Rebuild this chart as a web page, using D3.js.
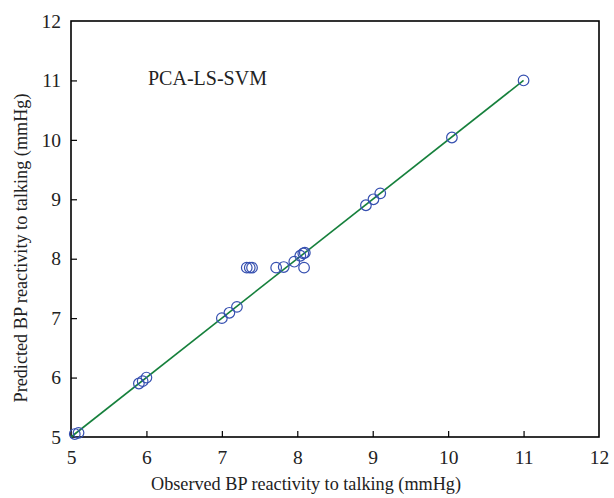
<!DOCTYPE html>
<html><head><meta charset="utf-8">
<script src="https://cdn.jsdelivr.net/npm/d3@7"></script>
<style>body{margin:0;background:#fff}svg{display:block}</style>
</head><body>
<script>
const observed  = [5.05,5.1, 5.9,5.95,6.0, 7.0,7.1,7.2, 7.33,7.37,7.4, 7.72,7.82, 7.96, 8.04,8.08,8.1, 8.09, 8.91,9.01,9.1, 10.05, 11.0];
const predicted = [5.05,5.07,5.9,5.94,6.0, 7.0,7.09,7.19, 7.85,7.85,7.85, 7.85,7.86, 7.95, 8.05,8.09,8.1, 7.85, 8.9,9.0,9.1, 10.04, 11.0];
const fitLine = [[5,5],[11,11]];
const xTicks = [5,6,7,8,9,10,11,12];
const yTicks = [5,6,7,8,9,10,11,12];
const title = "PCA-LS-SVM";
const xLabel = "Observed BP reactivity to talking (mmHg)";
const yLabel = "Predicted BP reactivity to talking (mmHg)";

const W = 614, H = 498;
const m = {left:71, right:15, top:21, bottom:61};
const svg = d3.select("body").append("svg").attr("width",W).attr("height",H);
const x = d3.scaleLinear().domain([5,12]).range([m.left, W-m.right]);
const y = d3.scaleLinear().domain([5,12]).range([H-m.bottom, m.top]);
const font = "'Liberation Serif', 'Times New Roman', serif";

// frame
svg.append("rect").attr("x",x(5)).attr("y",y(12)).attr("width",x(12)-x(5)).attr("height",y(5)-y(12))
  .attr("fill","none").attr("stroke","#000").attr("stroke-width",1.6);

const xAxis = svg.append("g").attr("transform",`translate(0,${y(5)})`)
  .call(d3.axisBottom(x).tickValues(xTicks).tickFormat(d3.format("d")).tickSize(-6).tickPadding(13));
const yAxis = svg.append("g").attr("transform",`translate(${x(5)},0)`)
  .call(d3.axisLeft(y).tickValues(yTicks).tickFormat(d3.format("d")).tickSize(-6).tickPadding(10));
[xAxis,yAxis].forEach(a=>{
  a.select(".domain").remove();
  a.selectAll(".tick line").attr("stroke","#000").attr("stroke-width",1.2);
  a.selectAll(".tick text").attr("font-family",font).attr("font-size",19.5).attr("fill","#222");
});
xAxis.selectAll(".tick").filter(d=>d===5||d===12).select("line").remove();
yAxis.selectAll(".tick").filter(d=>d===5||d===12).select("line").remove();

// fit line
svg.append("path").datum(fitLine)
  .attr("d", d3.line().x(d=>x(d[0])).y(d=>y(d[1])))
  .attr("stroke","#16803c").attr("stroke-width",1.6).attr("fill","none");

// points
svg.append("g").selectAll("circle").data(observed.map((v,i)=>[v,predicted[i]]))
  .join("circle").attr("cx",d=>x(d[0])).attr("cy",d=>y(d[1])).attr("r",5.3)
  .attr("fill","none").attr("stroke","#3650b0").attr("stroke-width",1.2);

svg.append("text").attr("x",148).attr("y",85).text(title)
  .attr("font-family",font).attr("font-size",20).attr("fill","#222");

svg.append("text").attr("x",306).attr("y",490).attr("text-anchor","middle").text(xLabel)
  .attr("font-family",font).attr("font-size",18.2).attr("fill","#222");
svg.append("text").attr("transform","translate(27,248) rotate(-90)").attr("text-anchor","middle").text(yLabel)
  .attr("font-family",font).attr("font-size",18.2).attr("fill","#222");
</script>
</body></html>
